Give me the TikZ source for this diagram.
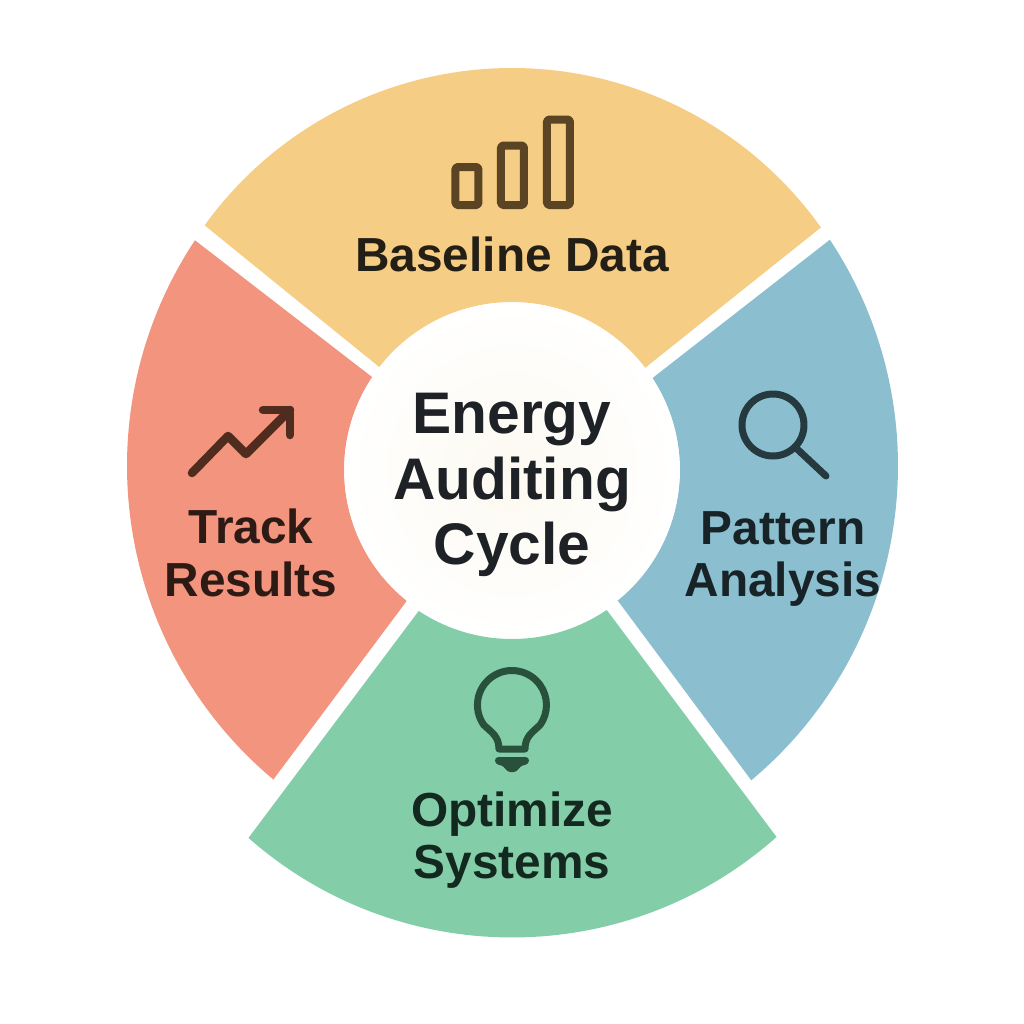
\documentclass[tikz,border=0pt]{standalone}
\usepackage{fontspec}
\setmainfont{Liberation Sans}
\definecolor{baselinefill}{HTML}{F6CD84}
\definecolor{trackfill}{HTML}{F2947E}
\definecolor{patternfill}{HTML}{8BBFCF}
\definecolor{optimizefill}{HTML}{83CEA9}
\definecolor{hubglow}{HTML}{FCF9F0}
\definecolor{hubtext}{HTML}{1E2226}
\definecolor{baselinetext}{HTML}{241F16}
\definecolor{tracktext}{HTML}{2E1A14}
\definecolor{patterntext}{HTML}{172326}
\definecolor{optimizetext}{HTML}{13291F}
\definecolor{baricon}{HTML}{5A4423}
\definecolor{arrowicon}{HTML}{4F2C1E}
\definecolor{lensicon}{HTML}{25393F}
\definecolor{bulbicon}{HTML}{28503B}
\tikzset{
	icon/.style={line width=0.07cm, line cap=round, line join=round},
	label/.style={font=\bfseries\fontsize{13.6}{15}\selectfont, align=center},
}
\begin{document}
\begin{tikzpicture}[x=1cm, y=1cm]
\def\rhub{1.675}
	\useasboundingbox (-5.12,4.70) rectangle (5.12,-5.54);
	\coordinate (o) at (0,0);
	
	\foreach \col/\cx/\cy/\R/\a/\b/\w/\i/\j in {baselinefill/0/0.23/3.79/144.2/35.4/1.68/37.5/142.2, trackfill/0.24/0.04/4.09/146.5/230.05/1.68/231.2/146.4, patternfill/-0.24/0.04/4.10/-50.05/33.5/1.68/33.2/-51, optimizefill/0/-0.69/3.985/228.6/311.6/1.69/304.1/236.5}
	{
		\fill[\col] (\cx,\cy) ++(\a:\R) arc[start angle=\a, end angle=\b, radius=\R] -- (\i:\w) arc[start angle=\i, end angle=\j, radius=\w] -- cycle;
	}
	
	\node (hub) at (o) [circle, minimum size=2*\rhub cm, inner sep=0pt, inner color=hubglow, outer color=white] {};
	\node (title) at (0,-0.15) [text=hubtext, font=\bfseries\fontsize{16.7}{18.6}\selectfont, align=center] {Energy\\Auditing\\Cycle};
	
	\foreach \n/\x/\y/\c/\t in {base/0/2.16/baselinetext/{Baseline Data}, track/-2.61/-0.83/tracktext/{Track\\Results}, pattern/2.71/-0.89/patterntext/{Pattern\\Analysis}, optimize/0/-3.70/optimizetext/{Optimize\\Systems}}
	{
		\node[label, text=\c] (\n) at (\x,\y) {\t};
	}
	
	% bars
	\foreach \x/\top in {-0.45/3.03, 0.005/3.245, 0.465/3.505}
	{
		\draw[icon, baricon, line width=0.08cm, rounded corners=0.5pt] (\x-0.115,2.65) rectangle (\x+0.115,\top);
	}
	
	% arrow
	\draw[icon, arrowicon, line width=0.085cm] (-3.20,-0.03) -- (-2.84,0.34) -- (-2.66,0.16) -- (-2.22,0.60);
	\draw[icon, arrowicon, line width=0.085cm] (-2.49,0.60) -- (-2.22,0.60) -- (-2.22,0.35);
	
	% lens
	\draw[icon, lensicon] (2.61,0.45) coordinate (lens) circle (0.31);
	\draw[icon, lensicon] (lens) ++(-45:0.31) -- (3.14,-0.06);
	
	% bulb
	\draw[icon, bulbicon] (-0.283,-2.548) arc[start angle=215, end angle=-35, radius=0.345] .. controls (0.21,-2.62) and (0.13,-2.66) .. (0.13,-2.79) -- (-0.13,-2.79) .. controls (-0.13,-2.66) and (-0.21,-2.62) .. (-0.283,-2.548) -- cycle;
	\fill[bulbicon, rounded corners=1pt] (-0.17,-2.87) -- (0.17,-2.87) -- (0.17,-2.94) -- (0.08,-2.96) -- (0.05,-3.02) -- (-0.05,-3.02) -- (-0.08,-2.96) -- (-0.17,-2.94) -- cycle;
\end{tikzpicture}
\end{document}
